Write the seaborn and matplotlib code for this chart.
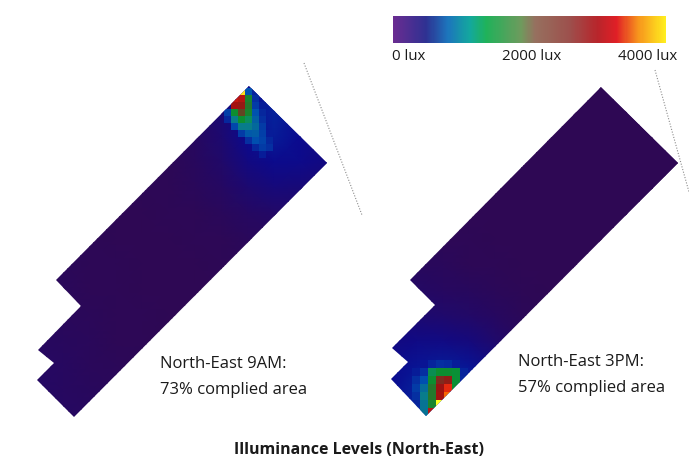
import numpy as np
import matplotlib
matplotlib.use('Agg')
import matplotlib.pyplot as plt
from matplotlib.colors import LinearSegmentedColormap, Normalize
from matplotlib.cm import ScalarMappable
from matplotlib.patches import Polygon
import seaborn as sns

n = np.nan

# plan outlines and sun lines, in image pixels
left_outline = [(249, 86), (327, 163), (74, 417), (37, 380), (54, 363), (38, 350), (81, 306), (56, 280)]
right_outline = [(601, 87), (678, 163), (426, 416), (391, 379), (408, 362), (392, 348), (435, 305), (410, 280)]
left_sun_line = [(304, 63), (362, 215)]
right_sun_line = [(655, 70), (689, 192)]

# coarse lux grids over each plan's bounding box
left_base = [
    [40, 40, 40, 40, 50, 60, 90, 220, 400, 480, 340, 200],
    [40, 30, 30, 30, 40, 50, 90, 220, 420, 500, 400, 240],
    [40, 30, 20, 20, 30, 40, 80, 200, 400, 480, 400, 280],
    [40, 30, 20, 20, 20, 30, 70, 150, 300, 380, 360, 300],
    [40, 30, 20, 10, 20, 20, 50, 100, 200, 260, 240, 180],
    [50, 30, 20, 10, 10, 20, 30, 60, 100, 140, 150, 110],
    [50, 40, 20, 10, 10, 10, 20, 30, 50, 70, 80, 70],
    [60, 40, 30, 20, 10, 10, 10, 20, 30, 40, 50, 40],
    [70, 50, 30, 20, 10, 10, 10, 10, 20, 30, 30, 30],
    [80, 60, 40, 20, 20, 10, 10, 10, 10, 20, 20, 20],
    [90, 70, 50, 30, 20, 10, 10, 10, 10, 10, 10, 10],
    [100, 80, 60, 40, 20, 10, 10, 10, 10, 10, 10, 10],
    [110, 90, 70, 50, 30, 20, 10, 10, 10, 10, 10, 10],
    [120, 100, 80, 60, 40, 20, 10, 10, 10, 10, 10, 10],
]
right_base = [
    [10, 10, 10, 10, 10, 10, 10, 10, 10, 10, 10, 20],
    [10, 10, 10, 10, 10, 10, 10, 10, 10, 10, 10, 20],
    [10, 10, 10, 10, 10, 10, 10, 10, 10, 10, 10, 10],
    [10, 10, 10, 10, 10, 10, 10, 10, 10, 10, 10, 10],
    [20, 20, 10, 10, 10, 10, 10, 10, 10, 10, 10, 10],
    [30, 20, 20, 10, 10, 10, 10, 10, 10, 10, 10, 10],
    [50, 40, 30, 20, 10, 10, 10, 10, 10, 10, 10, 10],
    [90, 70, 50, 30, 20, 10, 10, 10, 10, 10, 10, 10],
    [140, 110, 90, 70, 40, 20, 10, 10, 10, 10, 10, 10],
    [220, 200, 170, 130, 90, 40, 20, 10, 10, 10, 10, 10],
    [310, 340, 320, 280, 170, 70, 30, 10, 10, 10, 10, 10],
    [380, 450, 480, 450, 300, 120, 40, 10, 10, 10, 10, 10],
    [420, 500, 560, 520, 360, 150, 50, 10, 10, 10, 10, 10],
    [420, 520, 600, 550, 380, 160, 50, 10, 10, 10, 10, 10],
]

# finer lux cells around the sun patches
left_hot = [
    [n, n, 3900, 700, 500, n, n, n],
    [n, 3100, 3000, 1400, 550, n, n, n],
    [n, 2900, 2700, 1500, 600, 480, n, n],
    [620, 1300, 2000, 1400, 700, 520, n, n],
    [520, 900, 1300, 1100, 750, 560, n, n],
    [n, 650, 900, 900, 800, 600, n, n],
    [n, n, 600, 720, 740, 620, 480, n],
    [n, n, n, 560, 680, 640, 520, n],
    [n, n, n, n, 520, 600, 560, n],
    [n, n, n, n, n, 480, n, n],
]
right_hot = [
    [n, 450, 500, 560, 540, 480, n, n],
    [480, 560, 1150, 1300, 1300, 1250, 500, n],
    [550, 680, 1300, 2300, 2600, 1250, 520, n],
    [600, 820, 1500, 2800, 3300, 1300, n, n],
    [550, 900, 1500, 2900, 3500, 2800, n, n],
    [n, 850, 1400, 4000, 3500, n, n, n],
    [n, 850, 3000, 4000, n, n, n, n],
]

colorbar_ticks = ['0 lux', '2000 lux', '4000 lux']

plan_colors = ['#2e0854', '#0a0a90', '#0050b0', '#0a8a80', '#0a9030', '#7a3020', '#a01010', '#e02010', '#ff8000', '#ffff20']
plan_stops = [0, 0.1, 0.17, 0.24, 0.32, 0.55, 0.72, 0.82, 0.9, 1]
plan_cmap = LinearSegmentedColormap.from_list('plan', list(zip(plan_stops, plan_colors)))

bar_colors = ['#6a2c91', '#2e3192', '#1c75bc', '#13a89e', '#1fb25a', '#6f9a5d', '#96705f', '#9d4f4c', '#b8252b', '#e01f26', '#f7941d', '#ffef1f']
bar_stops = [0, 0.12, 0.2, 0.28, 0.34, 0.47, 0.52, 0.65, 0.75, 0.82, 0.9, 1]
bar_cmap = LinearSegmentedColormap.from_list('bar', list(zip(bar_stops, bar_colors)))

W, H = 689, 469

sns.set_theme(style='white')
plt.rcParams['font.family'] = ['Open Sans', 'DejaVu Sans']

fig = plt.figure(figsize=(W / 100, H / 100), dpi=100)
canvas = fig.add_axes([0, 0, 1, 1], zorder=5)
canvas.set_xlim(0, W)
canvas.set_ylim(H, 0)
canvas.axis('off')
canvas.patch.set_alpha(0)


def pixel_axes(x0, y0, x1, y1, zorder):
    ax = fig.add_axes([x0 / W, 1 - y1 / H, (x1 - x0) / W, (y1 - y0) / H], zorder=zorder)
    ax.patch.set_alpha(0)
    return ax


def draw_layer(values, box, outline, zorder, **kws):
    ax = pixel_axes(*box, zorder)
    sns.heatmap(np.array(values, dtype=float), cmap=plan_cmap, vmin=0, vmax=4000, cbar=False,
                xticklabels=False, yticklabels=False, ax=ax, **kws)
    if kws.get('shading') == 'gouraud':
        rows, cols = np.shape(values)
        ax.set_xlim(0, cols - 1)
        ax.set_ylim(rows - 1, 0)
    ax.collections[0].set_clip_path(Polygon(outline, transform=canvas.transData))


# smooth background, blocky sun patch on top
draw_layer(left_base, (37, 86, 327, 417), left_outline, 1, shading='gouraud')
draw_layer(left_hot, (224, 88, 280, 158), left_outline, 2)
draw_layer(right_base, (391, 87, 678, 417), right_outline, 1, shading='gouraud')
draw_layer(right_hot, (412, 360, 476, 416), right_outline, 2)

for line in [left_sun_line, right_sun_line]:
    xs, ys = zip(*line)
    canvas.plot(xs, ys, color='#8c8c8c', lw=0.8, ls=(0, (1, 1.5)), clip_on=True)

# colour bar
bar_ax = pixel_axes(393, 16, 666, 43, 3)
cb = fig.colorbar(ScalarMappable(Normalize(0, 4000), bar_cmap), cax=bar_ax, orientation='horizontal')
cb.outline.set_visible(False)
cb.set_ticks([])

text_color = '#1a1a1a'
canvas.text(392, 57, colorbar_ticks[0], fontsize=10.8, color=text_color, ha='left', va='center')
canvas.text(532, 57, colorbar_ticks[1], fontsize=10.8, color=text_color, ha='center', va='center')
canvas.text(648, 57, colorbar_ticks[2], fontsize=10.8, color=text_color, ha='center', va='center')

canvas.text(160, 377, 'North-East 9AM:\n73% complied area', fontsize=12, color=text_color,
            ha='left', va='center', linespacing=1.75)
canvas.text(518, 375, 'North-East 3PM:\n57% complied area', fontsize=12, color=text_color,
            ha='left', va='center', linespacing=1.75)
canvas.text(359, 450, 'Illuminance Levels (North-East)', fontsize=11.5, fontweight='bold', color=text_color,
            ha='center', va='center')

fig.savefig('out.png', dpi=100, facecolor='white')
